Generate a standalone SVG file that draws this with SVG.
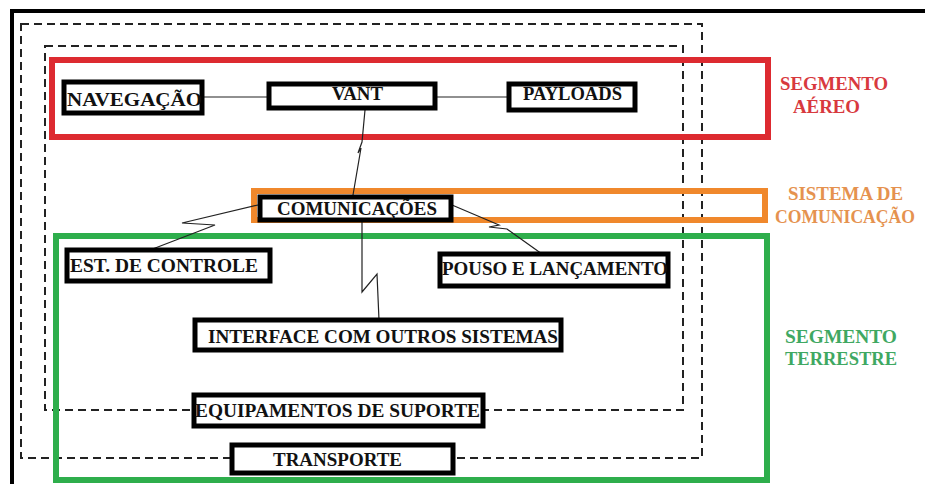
<svg xmlns="http://www.w3.org/2000/svg" width="925" height="484" viewBox="0 0 925 484">
<style>
.frame{fill:none;stroke:#000;stroke-width:4}
.dash{fill:none;stroke:#222;stroke-width:2;stroke-dasharray:8 5}
.seg{fill:none;stroke-width:6}
.node rect{fill:#fff;stroke:#000;stroke-width:5}
.node text{font-family:"Liberation Serif",serif;font-weight:bold;font-size:18px;fill:#111}
.lbl{font-family:"Liberation Serif",serif;font-weight:bold;font-size:18px}
.conn{fill:none;stroke:#222;stroke-width:1.2}
</style>
<rect width="925" height="484" fill="#fff"/>
<rect class="frame" x="12" y="11" width="930" height="490"/>
<rect class="dash" x="21" y="24" width="681" height="434"/>
<rect class="dash" x="45" y="46" width="638" height="364"/>
<rect class="seg" x="52" y="60" width="716" height="77" stroke="#dd2a30"/>
<rect class="seg" x="254" y="191" width="511" height="29" stroke="#f0882c"/>
<rect class="seg" x="56" y="236" width="711" height="244" stroke="#2eae4c"/>
<text class="lbl" fill="#d8393e" x="780" y="90" textLength="108" lengthAdjust="spacingAndGlyphs">SEGMENTO</text>
<text class="lbl" fill="#d8393e" x="793" y="113" textLength="67" lengthAdjust="spacingAndGlyphs">AÉREO</text>
<text class="lbl" fill="#e5924f" x="788" y="200" textLength="115" lengthAdjust="spacingAndGlyphs">SISTEMA DE</text>
<text class="lbl" fill="#e5924f" x="775" y="223" textLength="140" lengthAdjust="spacingAndGlyphs">COMUNICAÇÃO</text>
<text class="lbl" fill="#3fa862" x="785" y="343" textLength="112" lengthAdjust="spacingAndGlyphs">SEGMENTO</text>
<text class="lbl" fill="#3fa862" x="785" y="365" textLength="112" lengthAdjust="spacingAndGlyphs">TERRESTRE</text>
<g id="connectors">
<line class="conn" x1="204" y1="97" x2="269" y2="97"/>
<line class="conn" x1="435" y1="97" x2="509" y2="97"/>
<polyline class="conn" points="365,110 362,142 358,153 361,148 353,195"/>
<polyline class="conn" points="258,205 182,223 215,225 150,250"/>
<polyline class="conn" points="362,222 362,292 377,274 379,320"/>
<polyline class="conn" points="452,205 499,225 489,227 507,229 542,254"/>
</g>
<g id="navegacao" class="node"><rect x="64" y="82" width="138" height="31"/><text x="67" y="106" textLength="135" lengthAdjust="spacingAndGlyphs">NAVEGAÇÃO</text></g>
<g id="vant" class="node"><rect x="269" y="84" width="166" height="24"/><text x="332" y="100" textLength="51" lengthAdjust="spacingAndGlyphs">VANT</text></g>
<g id="payloads" class="node"><rect x="509" y="84" width="126" height="26"/><text x="523" y="100" textLength="99" lengthAdjust="spacingAndGlyphs">PAYLOADS</text></g>
<g id="comunicacoes" class="node"><rect x="260" y="197" width="191" height="23"/><text x="277" y="215" textLength="160" lengthAdjust="spacingAndGlyphs">COMUNICAÇÕES</text></g>
<g id="controle" class="node"><rect x="67" y="250" width="203" height="31"/><text x="70" y="272" textLength="188" lengthAdjust="spacingAndGlyphs">EST. DE CONTROLE</text></g>
<g id="pouso" class="node"><rect x="440" y="254" width="228" height="32"/><text x="442" y="275" textLength="226" lengthAdjust="spacingAndGlyphs">POUSO E LANÇAMENTO</text></g>
<g id="interface" class="node"><rect x="195" y="320" width="366" height="30"/><text x="208" y="343" textLength="350" lengthAdjust="spacingAndGlyphs">INTERFACE COM OUTROS SISTEMAS</text></g>
<g id="equipamentos" class="node"><rect x="194" y="395" width="289" height="31"/><text x="195" y="417" textLength="285" lengthAdjust="spacingAndGlyphs">EQUIPAMENTOS DE SUPORTE</text></g>
<g id="transporte" class="node"><rect x="232" y="445" width="221" height="28"/><text x="273" y="466" textLength="129" lengthAdjust="spacingAndGlyphs">TRANSPORTE</text></g>
</svg>
